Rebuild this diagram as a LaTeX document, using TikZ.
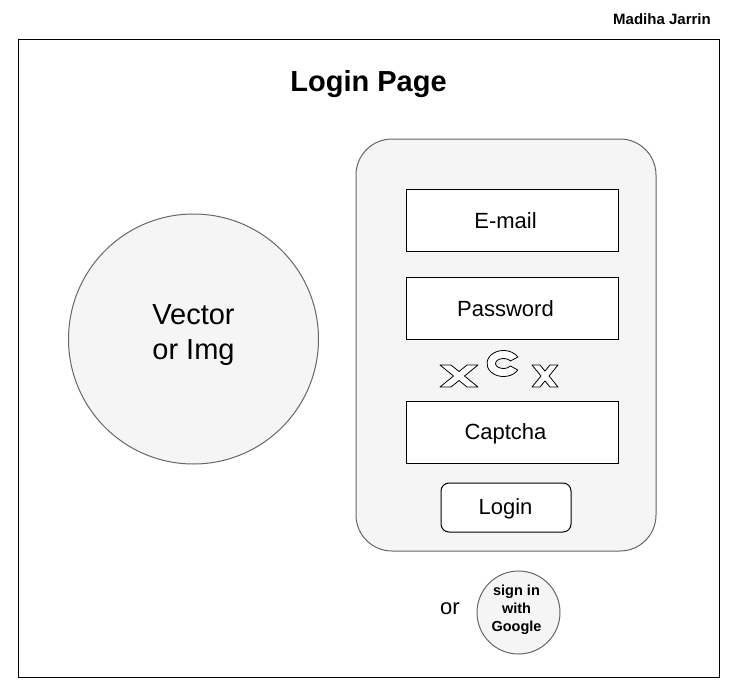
\documentclass[tikz,border=0pt]{standalone}
\usepackage{fontspec}
\setmainfont{Liberation Sans}
\usetikzlibrary{calc}
\definecolor{panelfill}{HTML}{F5F5F5}
\definecolor{panelline}{HTML}{666666}
\begin{document}
\begin{tikzpicture}[x=1pt,y=-1pt,
  soft/.style={draw=panelline,fill=panelfill,line width=1pt},
  field/.style={draw=black,fill=white,line width=1pt,minimum width=212pt,minimum height=62pt,inner sep=0pt,
    label={[font=\fontsize{22}{26}\selectfont,xshift=-6.5pt,yshift=-1pt]center:#1}},
  captglyph/.style={draw=black,fill=white,line width=0.8pt,line join=round}]
\useasboundingbox (0,0) rectangle (739,688);

% page frame and headings
\node[draw=black,line width=1pt,minimum width=701pt,minimum height=638pt,inner sep=0pt] (frame) at (368.5,358) {};
\node[font=\bfseries\fontsize{29}{34}\selectfont] (title) at (368.5,84) {Login Page};
\node[font=\bfseries\fontsize{15}{18}\selectfont] (author) at (662,19) {Madiha Jarrin};

% illustration placeholder
\node[soft,circle,minimum size=250pt,inner sep=0pt] (img) at (193.5,339) {};
\node[align=center,font=\fontsize{29}{35}\selectfont] (imgtext) at (193.5,335) {Vector\\or Img};

% login panel
\node[soft,rounded corners=36pt,minimum width=300pt,minimum height=412pt,inner sep=0pt] (panel) at (506,345) {};
\node[field=E-mail] (email) at (512,220) {};
\node[field=Password] (pass) at (512,308) {};
\node[field=Captcha] (capt) at (512,432.5) {};
\node[draw=black,fill=white,line width=1pt,rounded corners=8pt,minimum width=130pt,minimum height=49pt,
  inner sep=0pt] (login) at (506,507.5) {};
\node[font=\fontsize{22}{26}\selectfont] (logintext) at (505.5,509) {Login};

% captcha glyphs
\coordinate (cc) at (503.5,363.5);
\draw[captglyph] (440,365)--(451,365)--(459,371.5)--(467,365)--(478,365)--(464.5,376)--(478,387)
  --(467,387)--(459,380.5)--(451,387)--(440,387)--(453.5,376)--cycle;
\draw[captglyph] ($(cc)+(30:16.5 and 13)$) arc[start angle=30,end angle=330,x radius=16.5,y radius=13]
  -- ($(cc)+(330:8 and 5)$) arc[start angle=330,end angle=30,x radius=8,y radius=5] -- cycle;
\draw[captglyph] (532,365)--(540,365)--(545,371.1)--(550,365)--(558,365)--(549,376)--(558,387)
  --(550,387)--(545,380.9)--(540,387)--(532,387)--(541,376)--cycle;

% alternative sign-in
\node[font=\fontsize{22}{26}\selectfont] (or) at (450,609) {or};
\node[soft,circle,minimum size=83pt,inner sep=0pt] (google) at (518.5,612.5) {};
\node[align=center,font=\bfseries\fontsize{14.5}{18}\selectfont] (googletext) at (516.5,609.5) {sign in\\with\\Google};
\end{tikzpicture}
\end{document}
